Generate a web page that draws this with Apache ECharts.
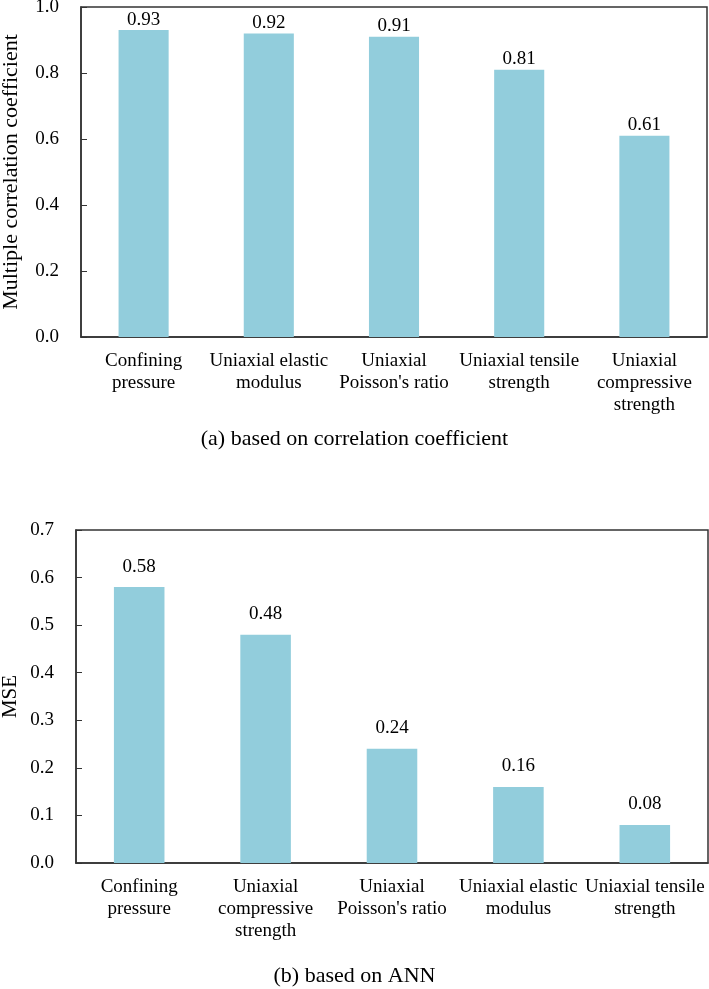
<!DOCTYPE html>
<html>
<head>
<meta charset="utf-8">
<script src="https://cdn.jsdelivr.net/npm/echarts@6/dist/echarts.min.js"></script>
<style>
html,body{margin:0;padding:0;background:#fff;}
#chart{width:709px;height:989px;}
</style>
</head>
<body>
<div id="chart"></div>
<script>
var categoriesA = ["Confining\npressure", "Uniaxial elastic\nmodulus", "Uniaxial\nPoisson's ratio", "Uniaxial tensile\nstrength", "Uniaxial\ncompressive\nstrength"];
var valuesA = [0.93, 0.92, 0.91, 0.81, 0.61];
var categoriesB = ["Confining\npressure", "Uniaxial\ncompressive\nstrength", "Uniaxial\nPoisson's ratio", "Uniaxial elastic\nmodulus", "Uniaxial tensile\nstrength"];
var valuesB = [0.58, 0.48, 0.24, 0.16, 0.08];
var captionA = "(a) based on correlation coefficient";
var captionB = "(b) based on ANN";
var yNameA = "Multiple correlation coefficient";
var yNameB = "MSE";

var FONT = "'Liberation Serif', 'Times New Roman', serif";
var AXIS = '#333';
var BAR = '#92CDDC';

var chart = echarts.init(document.getElementById('chart'), null, {renderer: 'canvas'});

function xAxis(idx, cats) {
  return {
    type: 'category', gridIndex: idx, data: cats,
    axisLine: {show: true, lineStyle: {color: AXIS, width: 1.5}},
    axisTick: {show: false},
    axisLabel: {color: '#000', fontFamily: FONT, fontSize: 19, lineHeight: 22, margin: 13, interval: 0}
  };
}
function yAxis(idx, max, name, gap, nameSize) {
  return {
    type: 'value', gridIndex: idx, min: 0, max: max, interval: 0.1 * (max === 1 ? 2 : 1),
    name: name, nameLocation: 'middle', nameGap: gap, nameMoveOverlap: false,
    nameTextStyle: {color: '#000', fontFamily: FONT, fontSize: nameSize},
    splitLine: {show: false},
    axisLine: {show: true, lineStyle: {color: AXIS, width: 1.5}},
    axisTick: {show: true, inside: true, length: 6, lineStyle: {color: AXIS, width: 1}},
    axisLabel: {color: '#000', fontFamily: FONT, fontSize: 19, margin: 22,
      formatter: function (v) { return v.toFixed(1); }}
  };
}

chart.setOption({
  animation: false,
  title: [
    {text: captionA, left: 'center', top: 428, padding: 0,
      textStyle: {color: '#000', fontFamily: FONT, fontSize: 22, fontWeight: 'normal'}},
    {text: captionB, left: 'center', top: 965, padding: 0,
      textStyle: {color: '#000', fontFamily: FONT, fontSize: 22, fontWeight: 'normal'}}
  ],
  grid: [
    {left: 81, top: 7, right: 2, bottom: 652, show: true, borderColor: AXIS, borderWidth: 1.5, backgroundColor: 'transparent', outerBoundsMode: 'none', containLabel: false},
    {left: 76, top: 530, right: 1, bottom: 126, show: true, borderColor: AXIS, borderWidth: 1.5, backgroundColor: 'transparent', outerBoundsMode: 'none', containLabel: false}
  ],
  xAxis: [xAxis(0, categoriesA), xAxis(1, categoriesB)],
  yAxis: [yAxis(0, 1.0, yNameA, 59, 22), yAxis(1, 0.7, yNameB, 55, 21)],
  series: [
    {type: 'bar', xAxisIndex: 0, yAxisIndex: 0, data: valuesA, barWidth: '40%',
      itemStyle: {color: BAR},
      label: {show: true, position: 'top', distance: 1, color: '#000', fontFamily: FONT, fontSize: 19,
        formatter: function (p) { return p.value.toFixed(2); }}},
    {type: 'bar', xAxisIndex: 1, yAxisIndex: 1, data: valuesB, barWidth: '40%',
      itemStyle: {color: BAR},
      label: {show: true, position: 'top', distance: 11, color: '#000', fontFamily: FONT, fontSize: 19,
        formatter: function (p) { return p.value.toFixed(2); }}}
  ]
});
</script>
</body>
</html>
